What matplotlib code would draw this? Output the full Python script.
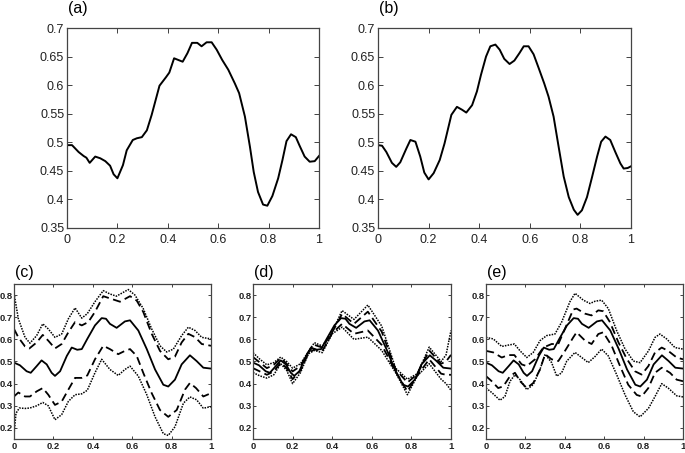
import matplotlib
matplotlib.use("Agg")
import matplotlib.pyplot as plt

# panel (a)
a_x = [0, 0.02, 0.046, 0.066, 0.077, 0.09, 0.112, 0.132, 0.152, 0.171, 0.185, 0.2, 0.222, 0.237,
       0.261, 0.277, 0.297, 0.317, 0.336, 0.367, 0.393, 0.406, 0.425, 0.442, 0.459, 0.478, 0.496,
       0.517, 0.534, 0.554, 0.574, 0.594, 0.616, 0.64, 0.666, 0.683, 0.706, 0.726, 0.741, 0.758,
       0.778, 0.795, 0.815, 0.838, 0.855, 0.871, 0.889, 0.908, 0.923, 0.943, 0.963, 0.983, 1.0]
a_y = [0.495, 0.495, 0.483, 0.476, 0.473, 0.464, 0.475, 0.472, 0.467, 0.459, 0.444, 0.437, 0.46, 0.486,
       0.504, 0.507, 0.509, 0.521, 0.548, 0.599, 0.614, 0.622, 0.647, 0.644, 0.641, 0.656, 0.674,
       0.674, 0.668, 0.675, 0.675, 0.662, 0.644, 0.627, 0.603, 0.586, 0.545, 0.492, 0.448, 0.413,
       0.391, 0.389, 0.406, 0.437, 0.469, 0.502, 0.514, 0.509, 0.494, 0.475, 0.466, 0.467, 0.476]

# panel (b)
b_x = [0, 0.016, 0.033, 0.055, 0.072, 0.088, 0.112, 0.128, 0.148, 0.167, 0.183, 0.2, 0.22, 0.244,
       0.263, 0.29, 0.312, 0.332, 0.349, 0.372, 0.391, 0.407, 0.427, 0.444, 0.464, 0.481, 0.499,
       0.52, 0.539, 0.559, 0.576, 0.595, 0.615, 0.635, 0.657, 0.674, 0.694, 0.714, 0.734, 0.754,
       0.774, 0.789, 0.806, 0.826, 0.846, 0.866, 0.882, 0.899, 0.918, 0.938, 0.958, 0.971, 0.987, 1.0]
b_y = [0.495, 0.494, 0.483, 0.464, 0.457, 0.465, 0.489, 0.504, 0.501, 0.475, 0.447, 0.435, 0.446, 0.469,
       0.498, 0.548, 0.562, 0.557, 0.552, 0.565, 0.589, 0.618, 0.65, 0.668, 0.671, 0.662, 0.646,
       0.637, 0.643, 0.656, 0.668, 0.668, 0.654, 0.63, 0.603, 0.58, 0.545, 0.492, 0.44, 0.404,
       0.382, 0.373, 0.381, 0.404, 0.439, 0.475, 0.501, 0.51, 0.504, 0.483, 0.463, 0.454, 0.455, 0.458]

# mean curve shared by (c), (d), (e)
mean_x = [0, 0.03, 0.064, 0.085, 0.115, 0.14, 0.166, 0.191, 0.208, 0.234, 0.268, 0.293, 0.321, 0.344,
          0.372, 0.411, 0.445, 0.467, 0.487, 0.521, 0.563, 0.589, 0.631, 0.674, 0.716, 0.758, 0.783,
          0.817, 0.851, 0.893, 0.927, 0.961, 1.0]
mean_y = [0.495, 0.483, 0.456, 0.449, 0.479, 0.505, 0.487, 0.449, 0.435, 0.456, 0.525, 0.563, 0.553, 0.556,
          0.602, 0.663, 0.696, 0.693, 0.67, 0.652, 0.681, 0.686, 0.64, 0.556, 0.464, 0.395, 0.387,
          0.418, 0.487, 0.528, 0.502, 0.472, 0.468]

# panel (c)
c_up2_x = [0, 0.022, 0.056, 0.081, 0.115, 0.146, 0.174, 0.208, 0.242, 0.276, 0.31, 0.344, 0.372, 0.411,
           0.453, 0.487, 0.52, 0.58, 0.614, 0.656, 0.699, 0.741, 0.775, 0.809, 0.851, 0.885, 0.919, 0.953, 1.0]
c_up2_y = [0.808, 0.693, 0.609, 0.583, 0.617, 0.67, 0.647, 0.609, 0.624, 0.693, 0.742, 0.696, 0.716, 0.77,
           0.82, 0.805, 0.795, 0.825, 0.8, 0.739, 0.647, 0.571, 0.543, 0.556, 0.617, 0.655, 0.64, 0.609, 0.602]
c_up1_x = [0, 0.022, 0.056, 0.078, 0.115, 0.146, 0.174, 0.208, 0.242, 0.276, 0.31, 0.344, 0.377, 0.411,
           0.453, 0.487, 0.538, 0.589, 0.623, 0.656, 0.699, 0.741, 0.783, 0.817, 0.851, 0.885, 0.919, 0.953, 1.0]
c_up1_y = [0.647, 0.609, 0.568, 0.559, 0.586, 0.62, 0.594, 0.559, 0.579, 0.632, 0.678, 0.663, 0.678, 0.724,
           0.795, 0.785, 0.77, 0.795, 0.775, 0.724, 0.625, 0.548, 0.51, 0.522, 0.586, 0.625, 0.61, 0.579, 0.571]
c_lo1_x = [0, 0.022, 0.056, 0.081, 0.115, 0.146, 0.174, 0.208, 0.242, 0.276, 0.31, 0.344, 0.372, 0.411,
           0.453, 0.487, 0.529, 0.563, 0.589, 0.623, 0.656, 0.699, 0.741, 0.783, 0.826, 0.868, 0.893,
           0.924, 0.961, 1.0]
c_lo1_y = [0.342, 0.36, 0.342, 0.342, 0.365, 0.38, 0.35, 0.304, 0.319, 0.373, 0.426, 0.426, 0.437, 0.51,
           0.571, 0.556, 0.533, 0.548, 0.556, 0.525, 0.449, 0.357, 0.281, 0.25, 0.281, 0.373, 0.403,
           0.38, 0.342, 0.357]
c_lo2_x = [0, 0.01, 0.027, 0.056, 0.081, 0.115, 0.146, 0.174, 0.208, 0.242, 0.276, 0.31, 0.344, 0.372,
           0.411, 0.445, 0.487, 0.529, 0.563, 0.589, 0.631, 0.674, 0.716, 0.758, 0.783, 0.817, 0.86,
           0.893, 0.927, 0.961, 1.0]
c_lo2_y = [0.17, 0.266, 0.29, 0.288, 0.29, 0.3, 0.315, 0.3, 0.237, 0.26, 0.32, 0.35, 0.354, 0.37,
           0.449, 0.51, 0.464, 0.437, 0.464, 0.479, 0.434, 0.35, 0.25, 0.174, 0.166, 0.205, 0.312,
           0.34, 0.327, 0.289, 0.296]

# panel (d)
d_x = [0, 0.035, 0.07, 0.105, 0.14, 0.17, 0.2, 0.24, 0.28, 0.31, 0.35, 0.4, 0.45, 0.51, 0.58, 0.65,
       0.72, 0.78, 0.83, 0.89, 0.95, 0.975, 1.0]
d_up2 = [0.54, 0.51, 0.485, 0.495, 0.52, 0.5, 0.47, 0.49, 0.545, 0.585, 0.57, 0.635, 0.73, 0.69, 0.755,
         0.66, 0.47, 0.42, 0.445, 0.565, 0.5, 0.53, 0.64]
d_up1 = [0.52, 0.495, 0.47, 0.485, 0.515, 0.49, 0.455, 0.48, 0.542, 0.575, 0.563, 0.632, 0.715, 0.67,
         0.725, 0.635, 0.465, 0.405, 0.443, 0.55, 0.49, 0.5, 0.53]
d_lo1 = [0.47, 0.455, 0.44, 0.455, 0.495, 0.47, 0.42, 0.46, 0.538, 0.555, 0.548, 0.628, 0.67, 0.625,
         0.64, 0.575, 0.455, 0.365, 0.437, 0.51, 0.445, 0.44, 0.44]
d_lo2 = [0.45, 0.435, 0.425, 0.44, 0.49, 0.46, 0.4, 0.45, 0.535, 0.55, 0.54, 0.625, 0.655, 0.6, 0.61,
         0.55, 0.45, 0.35, 0.435, 0.49, 0.42, 0.4, 0.37]

# panel (e)
e_up2_x = [0, 0.037, 0.08, 0.113, 0.144, 0.173, 0.207, 0.24, 0.274, 0.308, 0.35, 0.384, 0.426, 0.452,
           0.494, 0.528, 0.553, 0.587, 0.621, 0.663, 0.706, 0.748, 0.782, 0.825, 0.858, 0.883, 0.917, 0.959, 1.0]
e_up2_y = [0.609, 0.602, 0.568, 0.574, 0.579, 0.548, 0.518, 0.541, 0.594, 0.617, 0.624, 0.678, 0.77, 0.808,
           0.777, 0.762, 0.772, 0.777, 0.739, 0.64, 0.556, 0.502, 0.495, 0.548, 0.609, 0.624, 0.602, 0.563, 0.556]
e_up1_x = [0, 0.037, 0.08, 0.113, 0.144, 0.181, 0.207, 0.249, 0.291, 0.333, 0.367, 0.401, 0.443, 0.46,
           0.503, 0.536, 0.57, 0.595, 0.629, 0.672, 0.714, 0.756, 0.79, 0.824, 0.858, 0.892, 0.925, 0.968, 1.0]
e_up1_y = [0.548, 0.541, 0.518, 0.529, 0.529, 0.487, 0.479, 0.51, 0.563, 0.579, 0.579, 0.648, 0.735, 0.739,
           0.716, 0.708, 0.731, 0.727, 0.678, 0.587, 0.513, 0.456, 0.441, 0.479, 0.541, 0.563, 0.548, 0.518, 0.51]
e_lo1_x = [0, 0.029, 0.062, 0.088, 0.122, 0.147, 0.173, 0.207, 0.24, 0.274, 0.3, 0.333, 0.367, 0.401,
           0.443, 0.46, 0.503, 0.536, 0.57, 0.595, 0.638, 0.68, 0.722, 0.765, 0.79, 0.824, 0.858, 0.892,
           0.934, 0.968, 1.0]
e_lo1_y = [0.434, 0.411, 0.38, 0.388, 0.434, 0.449, 0.411, 0.38, 0.403, 0.464, 0.533, 0.51, 0.502, 0.548,
           0.609, 0.632, 0.594, 0.579, 0.624, 0.632, 0.571, 0.48, 0.395, 0.349, 0.342, 0.38, 0.449, 0.472,
           0.449, 0.418, 0.411]
e_lo2_x = [0, 0.029, 0.071, 0.096, 0.122, 0.147, 0.173, 0.207, 0.24, 0.274, 0.3, 0.333, 0.359, 0.384,
           0.41, 0.452, 0.486, 0.519, 0.553, 0.587, 0.621, 0.663, 0.706, 0.748, 0.782, 0.825, 0.858,
           0.892, 0.925, 0.968, 1.0]
e_lo2_y = [0.38, 0.36, 0.325, 0.342, 0.411, 0.44, 0.418, 0.373, 0.396, 0.464, 0.533, 0.495, 0.434, 0.449,
           0.502, 0.541, 0.518, 0.495, 0.522, 0.556, 0.525, 0.441, 0.349, 0.273, 0.25, 0.289, 0.342,
           0.4, 0.38, 0.345, 0.34]

top_yticks = [0.35, 0.4, 0.45, 0.5, 0.55, 0.6, 0.65, 0.7]
top_ylabels = ["0.35", "0.4", "0.45", "0.5", "0.55", "0.6", "0.65", "0.7"]
bot_yticks = [0.2, 0.3, 0.4, 0.5, 0.6, 0.7, 0.8]
bot_ylabels = ["0.2", "0.3", "0.4", "0.5", "0.6", "0.7", "0.8"]
xticks = [0, 0.2, 0.4, 0.6, 0.8, 1.0]
xlabels = ["0", "0.2", "0.4", "0.6", "0.8", "1"]

W, H = 685, 453
fig = plt.figure(figsize=(W / 100, H / 100), dpi=100)
plt.rcParams['font.family'] = ['Liberation Sans', 'DejaVu Sans']

DASH = (0, (4.5, 2.5))
DOT = (0, (1, 0.8))


def make_ax(left, top, right, bottom):
    return fig.add_axes([left / W, 1 - bottom / H, (right - left) / W, (bottom - top) / H])


def style(ax, yt, yl, ylim, fs, bold, ticklen, xpad, ypad):
    ax.set_xlim(0, 1)
    ax.set_ylim(*ylim)
    ax.set_xticks(xticks)
    ax.set_xticklabels(xlabels)
    ax.set_yticks(yt)
    ax.set_yticklabels(yl)
    ax.tick_params(direction='in', top=True, right=True, length=ticklen, width=0.6,
                   labelsize=fs, colors='#222222')
    ax.tick_params(axis='x', pad=xpad)
    ax.tick_params(axis='y', pad=ypad)
    if bold:
        for lab in ax.get_xticklabels() + ax.get_yticklabels():
            lab.set_fontweight('bold')
    for sp in ax.spines.values():
        sp.set_linewidth(0.9)
        sp.set_color('#444444')


def band_panel(ax, curves):
    # curves: list of (x, y, kind)
    for cx, cy, kind in curves:
        if kind == 'dot':
            ax.plot(cx, cy, color='black', lw=1.1, ls=DOT)
        elif kind == 'dash':
            ax.plot(cx, cy, color='black', lw=1.3, ls=DASH)
        else:
            ax.plot(cx, cy, color='black', lw=1.3)


# top row
ax_a = make_ax(67, 28, 319, 228)
ax_a.plot(a_x, a_y, color='black', lw=1.4)
style(ax_a, top_yticks, top_ylabels, (0.35, 0.7), 9, False, 3.5, 4, 2)
fig.text(68 / W, 1 - 9 / H, "(a)", fontsize=11.5, va='center', ha='left')

ax_b = make_ax(378, 28, 631, 228)
ax_b.plot(b_x, b_y, color='black', lw=1.4)
style(ax_b, top_yticks, top_ylabels, (0.35, 0.7), 9, False, 3.5, 4, 2)
fig.text(379 / W, 1 - 9 / H, "(b)", fontsize=11.5, va='center', ha='left')

# bottom row
ax_c = make_ax(14, 284, 211, 439)
band_panel(ax_c, [(c_up2_x, c_up2_y, 'dot'), (c_up1_x, c_up1_y, 'dash'),
                  (mean_x, mean_y, 'solid'), (c_lo1_x, c_lo1_y, 'dash'),
                  (c_lo2_x, c_lo2_y, 'dot')])
style(ax_c, bot_yticks, bot_ylabels, (0.15, 0.85), 6.8, True, 2.5, 2, 1)
fig.text(15 / W, 1 - 273 / H, "(c)", fontsize=11.5, va='center', ha='left')

ax_d = make_ax(253, 284, 451, 439)
band_panel(ax_d, [(d_x, d_up2, 'dot'), (d_x, d_up1, 'dash'),
                  (mean_x, mean_y, 'solid'), (d_x, d_lo1, 'dash'),
                  (d_x, d_lo2, 'dot')])
style(ax_d, bot_yticks, bot_ylabels, (0.15, 0.85), 6.8, True, 2.5, 2, 1)
fig.text(254 / W, 1 - 273 / H, "(d)", fontsize=11.5, va='center', ha='left')

ax_e = make_ax(486, 284, 683, 439)
band_panel(ax_e, [(e_up2_x, e_up2_y, 'dot'), (e_up1_x, e_up1_y, 'dash'),
                  (mean_x, mean_y, 'solid'), (e_lo1_x, e_lo1_y, 'dash'),
                  (e_lo2_x, e_lo2_y, 'dot')])
style(ax_e, bot_yticks, bot_ylabels, (0.15, 0.85), 6.8, True, 2.5, 2, 1)
fig.text(487 / W, 1 - 273 / H, "(e)", fontsize=11.5, va='center', ha='left')

fig.savefig("out.png", dpi=100)
